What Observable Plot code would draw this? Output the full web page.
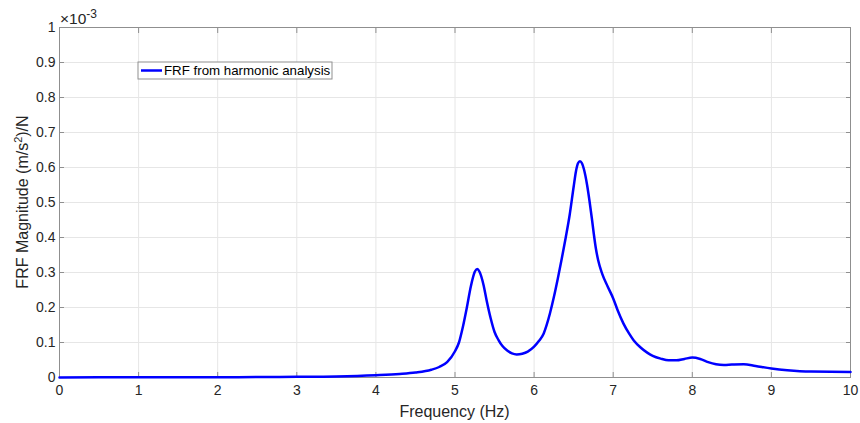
<!DOCTYPE html>
<html><head><meta charset="utf-8">
<script src="https://cdn.jsdelivr.net/npm/d3@7"></script>
<script src="https://cdn.jsdelivr.net/npm/@observablehq/plot@0.6"></script>
<style>body{margin:0;background:#fff}</style>
</head><body><div id="chart"></div>
<script>
// Frequency (Hz)
const freq = [0, 1, 2, 2.5, 3, 3.5, 4, 4.3, 4.5, 4.7, 4.8, 4.9, 5.0, 5.05, 5.1, 5.15, 5.2, 5.25, 5.28, 5.31, 5.36, 5.4, 5.45, 5.5, 5.55, 5.6, 5.66, 5.72, 5.78, 5.85, 5.92, 6.0, 6.06, 6.12, 6.16, 6.2, 6.25, 6.3, 6.35, 6.4, 6.45, 6.5, 6.53, 6.555, 6.58, 6.605, 6.63, 6.67, 6.7, 6.73, 6.755, 6.78, 6.81, 6.86, 6.93, 7.0, 7.06, 7.13, 7.2, 7.26, 7.35, 7.43, 7.5, 7.6, 7.7, 7.8, 7.9, 8.0, 8.1, 8.2, 8.3, 8.4, 8.5, 8.65, 8.8, 9.0, 9.2, 9.5, 10];
// FRF magnitude, in units of 1e-3 (m/s^2)/N
const magnitude = [0.0003, 0.0005, 0.0008, 0.0012, 0.0018, 0.003, 0.0065, 0.010, 0.014, 0.022, 0.030, 0.044, 0.075, 0.10, 0.145, 0.20, 0.26, 0.302, 0.31, 0.302, 0.265, 0.22, 0.17, 0.13, 0.107, 0.09, 0.077, 0.069, 0.066, 0.068, 0.074, 0.088, 0.104, 0.125, 0.151, 0.183, 0.23, 0.283, 0.34, 0.40, 0.465, 0.545, 0.59, 0.612, 0.618, 0.612, 0.595, 0.55, 0.505, 0.455, 0.41, 0.37, 0.335, 0.297, 0.26, 0.226, 0.19, 0.154, 0.126, 0.106, 0.085, 0.071, 0.062, 0.054, 0.049, 0.049, 0.053, 0.057, 0.053, 0.044, 0.038, 0.036, 0.037, 0.038, 0.033, 0.026, 0.021, 0.017, 0.016];
const xTicks = [0, 1, 2, 3, 4, 5, 6, 7, 8, 9, 10];
const xTickLabels = ["0", "1", "2", "3", "4", "5", "6", "7", "8", "9", "10"];
const yTicks = [0, 0.1, 0.2, 0.3, 0.4, 0.5, 0.6, 0.7, 0.8, 0.9, 1];
const yTickLabels = ["0", "0.1", "0.2", "0.3", "0.4", "0.5", "0.6", "0.7", "0.8", "0.9", "1"];
const seriesName = "FRF from harmonic analysis";
const xLabel = "Frequency (Hz)";
const yLabelParts = ["FRF Magnitude (m/s", "2", ")/N"];
const exponentParts = ["\u00d710", "-3"];

const data = freq.map((f, i) => ({f, m: magnitude[i]}));
const font = "'Liberation Sans', Arial, Helvetica, sans-serif";
const textColor = "#262626";
const frameColor = "#8f8f8f";
const gridColor = "#e6e6e6";
const lineColor = "#0000ff";

const chart = Plot.plot({
  width: 860, height: 423,
  marginLeft: 59, marginRight: 10, marginTop: 27, marginBottom: 46,
  style: {fontFamily: font, fontSize: "14px", color: textColor, background: "#fff"},
  x: {domain: [0, 10]},
  y: {domain: [0, 1]},
  marks: [
    Plot.gridX(xTicks, {stroke: gridColor, strokeOpacity: 1}),
    Plot.gridY(yTicks, {stroke: gridColor, strokeOpacity: 1}),
    Plot.axisX(xTicks, {tickSize: 0, tickPadding: 8, label: null, fill: textColor, tickFormat: d => xTickLabels[xTicks.indexOf(d)]}),
    Plot.axisX(xTicks, {tickSize: 5, dy: -5, fill: "none", label: null, stroke: frameColor}),
    Plot.axisX(xTicks, {anchor: "top", tickSize: 5, dy: 5, fill: "none", label: null, stroke: frameColor}),
    Plot.axisY(yTicks, {tickSize: 0, tickPadding: 4, label: null, fill: textColor, tickFormat: d => yTickLabels[yTicks.indexOf(d)]}),
    Plot.axisY(yTicks, {tickSize: 5, dx: 5, fill: "none", label: null, stroke: frameColor}),
    Plot.axisY(yTicks, {anchor: "right", tickSize: 5, dx: -5, fill: "none", label: null, stroke: frameColor}),
    Plot.frame({stroke: frameColor}),
    Plot.line(data, {x: "f", y: "m", stroke: lineColor, strokeWidth: 2.5, curve: "monotone-x"})
  ]
});
document.getElementById("chart").appendChild(chart);

(function () {
  const svg = d3.select(chart);
  const xs = chart.scale("x"), ys = chart.scale("y");
  const pLeft = xs.range[0], pRight = xs.range[1];
  const pBottom = ys.range[0], pTop = ys.range[1];

  // x label
  svg.append("text")
    .attr("x", (pLeft + pRight) / 2).attr("y", pBottom + 39.5)
    .attr("text-anchor", "middle").attr("font-size", 16).attr("fill", textColor)
    .attr("font-family", font).text(xLabel);

  // y label with superscript
  const yl = svg.append("text")
    .attr("transform", `translate(${pLeft - 31.5},${(pTop + pBottom) / 2}) rotate(-90)`)
    .attr("text-anchor", "middle").attr("font-size", 16).attr("fill", textColor)
    .attr("font-family", font);
  yl.append("tspan").text(yLabelParts[0]);
  yl.append("tspan").attr("font-size", 11).attr("dy", -6).text(yLabelParts[1]);
  yl.append("tspan").attr("dy", 6).text(yLabelParts[2]);

  // exponent
  const ex = svg.append("text")
    .attr("x", pLeft + 1).attr("y", pTop - 3).attr("text-anchor", "start")
    .attr("font-size", 15.5).attr("fill", textColor).attr("font-family", font);
  ex.append("tspan").text(exponentParts[0]);
  ex.append("tspan").attr("font-size", 12).attr("dy", -6).text(exponentParts[1]);

  // legend
  const lg = svg.append("g").attr("transform", `translate(${pLeft + 79},${pTop + 35})`);
  lg.append("rect").attr("x", 0).attr("y", 0).attr("width", 194).attr("height", 17)
    .attr("fill", "#fff").attr("stroke", frameColor).attr("stroke-width", 1);
  lg.append("line").attr("x1", 3).attr("x2", 24).attr("y1", 8.5).attr("y2", 8.5)
    .attr("stroke", lineColor).attr("stroke-width", 2.5);
  lg.append("text").attr("x", 26).attr("y", 13.3).attr("text-anchor", "start").attr("font-size", 13.3)
    .attr("fill", "#000").attr("font-family", font).text(seriesName);
})();
</script>
</body></html>
